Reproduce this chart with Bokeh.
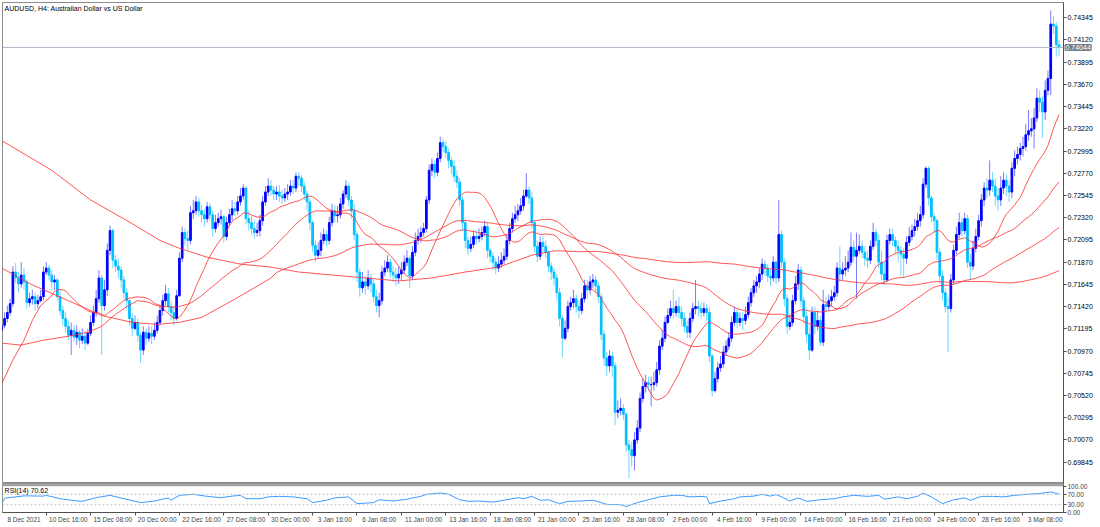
import numpy as np
from bokeh.plotting import figure
from bokeh.layouts import column
from bokeh.models import (ColumnDataSource, FixedTicker, NumeralTickFormatter,
                          Span, Label, Range1d, BoxAnnotation)
from bokeh.embed import file_html
from bokeh.resources import INLINE

FONT = "Liberation Sans"

chart_title = "AUDUSD, H4:  Australian Dollar vs US Dollar"
rsi_title = "RSI(14) 70.62"
last_price = 0.74044

first_open = 0.7118
close = [
    0.7123, 0.7130, 0.7136, 0.7145, 0.7177, 0.7171, 0.7165, 0.7174, 0.7167, 0.7146, 0.7150, 0.7152, 0.7145, 0.7148, 0.7152, 0.7177,
    0.7181, 0.7174, 0.7167, 0.7169, 0.7152, 0.7138, 0.7130, 0.7122, 0.7113, 0.7118, 0.7111, 0.7116, 0.7108, 0.7112, 0.7105, 0.7115,
    0.7126, 0.7136, 0.7150, 0.7171, 0.7143, 0.7159, 0.7199, 0.7219, 0.7189, 0.7183, 0.7179, 0.7169, 0.7156, 0.7148, 0.7130, 0.7120,
    0.7126, 0.7113, 0.7098, 0.7116, 0.7110, 0.7115, 0.7112, 0.7118, 0.7126, 0.7138, 0.7148, 0.7155, 0.7142, 0.7136, 0.7130, 0.7153,
    0.7191, 0.7217, 0.7211, 0.7209, 0.7237, 0.7239, 0.7248, 0.7239, 0.7235, 0.7231, 0.7243, 0.7235, 0.7221, 0.7227, 0.7231, 0.7233,
    0.7213, 0.7227, 0.7235, 0.7241, 0.7239, 0.7248, 0.7254, 0.7262, 0.7231, 0.7227, 0.7221, 0.7217, 0.7219, 0.7229, 0.7248, 0.7258,
    0.7264, 0.7260, 0.7256, 0.7258, 0.7254, 0.7252, 0.7256, 0.7258, 0.7264, 0.7262, 0.7274, 0.7272, 0.7264, 0.7256, 0.7248, 0.7227,
    0.7204, 0.7194, 0.7199, 0.7209, 0.7215, 0.7209, 0.7227, 0.7239, 0.7234, 0.7235, 0.7246, 0.7256, 0.7264, 0.7250, 0.7239, 0.7215,
    0.7177, 0.7161, 0.7167, 0.7163, 0.7171, 0.7165, 0.7152, 0.7143, 0.7148, 0.7177, 0.7181, 0.7187, 0.7177, 0.7174, 0.7171, 0.7175,
    0.7179, 0.7187, 0.7191, 0.7173, 0.7197, 0.7209, 0.7213, 0.7217, 0.7221, 0.7250, 0.7280, 0.7286, 0.7278, 0.7292, 0.7308, 0.7304,
    0.7298, 0.7290, 0.7284, 0.7274, 0.7268, 0.7250, 0.7227, 0.7209, 0.7201, 0.7205, 0.7213, 0.7211, 0.7213, 0.7217, 0.7223, 0.7199,
    0.7193, 0.7187, 0.7181, 0.7185, 0.7189, 0.7193, 0.7209, 0.7221, 0.7231, 0.7235, 0.7239, 0.7244, 0.7254, 0.7260, 0.7252, 0.7227,
    0.7203, 0.7193, 0.7207, 0.7203, 0.7197, 0.7183, 0.7177, 0.7171, 0.7156, 0.7130, 0.7110, 0.7120, 0.7142, 0.7146, 0.7150, 0.7142,
    0.7138, 0.7150, 0.7163, 0.7159, 0.7167, 0.7169, 0.7163, 0.7152, 0.7114, 0.7090, 0.7082, 0.7092, 0.7082, 0.7035, 0.7037, 0.7039,
    0.7033, 0.7002, 0.6997, 0.6991, 0.7007, 0.7019, 0.7049, 0.7061, 0.7065, 0.7063, 0.7063, 0.7065, 0.7078, 0.7102, 0.7110, 0.7126,
    0.7133, 0.7140, 0.7136, 0.7142, 0.7136, 0.7130, 0.7122, 0.7116, 0.7130, 0.7140, 0.7142, 0.7140, 0.7136, 0.7140, 0.7136, 0.7092,
    0.7057, 0.7069, 0.7080, 0.7084, 0.7096, 0.7102, 0.7110, 0.7126, 0.7136, 0.7126, 0.7130, 0.7128, 0.7134, 0.7146, 0.7156, 0.7163,
    0.7167, 0.7175, 0.7185, 0.7181, 0.7173, 0.7171, 0.7187, 0.7171, 0.7215, 0.7187, 0.7150, 0.7122, 0.7126, 0.7148, 0.7165, 0.7179,
    0.7148, 0.7132, 0.7114, 0.7098, 0.7136, 0.7122, 0.7128, 0.7106, 0.7144, 0.7142, 0.7148, 0.7152, 0.7156, 0.7181, 0.7175, 0.7179,
    0.7181, 0.7187, 0.7202, 0.7193, 0.7199, 0.7203, 0.7197, 0.7191, 0.7189, 0.7203, 0.7217, 0.7209, 0.7187, 0.7175, 0.7169, 0.7209,
    0.7215, 0.7209, 0.7203, 0.7199, 0.7195, 0.7191, 0.7207, 0.7213, 0.7219, 0.7223, 0.7229, 0.7235, 0.7266, 0.7282, 0.7252, 0.7233,
    0.7229, 0.7197, 0.7173, 0.7156, 0.7142, 0.7140, 0.7169, 0.7199, 0.7215, 0.7227, 0.7219, 0.7231, 0.7187, 0.7183, 0.7201, 0.7213,
    0.7229, 0.7250, 0.7262, 0.7260, 0.7270, 0.7264, 0.7254, 0.7250, 0.7262, 0.7270, 0.7264, 0.7258, 0.7282, 0.7292, 0.7296, 0.7302,
    0.7304, 0.7316, 0.7320, 0.7322, 0.7333, 0.7353, 0.7349, 0.7339, 0.7361, 0.7373, 0.7428, 0.7426, 0.7407, 0.74044,
]
high = [
    0.7128, 0.7136, 0.7143, 0.7150, 0.7183, 0.7186, 0.7177, 0.7187, 0.7181, 0.7169, 0.7156, 0.7159, 0.7156, 0.7154, 0.7159, 0.7183,
    0.7187, 0.7184, 0.7179, 0.7174, 0.7171, 0.7159, 0.7143, 0.7136, 0.7128, 0.7126, 0.7123, 0.7123, 0.7118, 0.7120, 0.7118, 0.7120,
    0.7133, 0.7143, 0.7159, 0.7179, 0.7174, 0.7169, 0.7206, 0.7224, 0.7221, 0.7194, 0.7191, 0.7183, 0.7173, 0.7161, 0.7150, 0.7136,
    0.7133, 0.7130, 0.7116, 0.7122, 0.7120, 0.7122, 0.7122, 0.7126, 0.7133, 0.7143, 0.7154, 0.7164, 0.7161, 0.7148, 0.7143, 0.7159,
    0.7197, 0.7223, 0.7221, 0.7219, 0.7244, 0.7250, 0.7254, 0.7252, 0.7245, 0.7241, 0.7248, 0.7247, 0.7239, 0.7235, 0.7237, 0.7240,
    0.7235, 0.7233, 0.7241, 0.7250, 0.7248, 0.7254, 0.7262, 0.7266, 0.7264, 0.7239, 0.7234, 0.7229, 0.7227, 0.7235, 0.7254, 0.7264,
    0.7272, 0.7270, 0.7264, 0.7264, 0.7265, 0.7260, 0.7262, 0.7266, 0.7270, 0.7270, 0.7278, 0.7278, 0.7275, 0.7268, 0.7260, 0.7252,
    0.7229, 0.7209, 0.7207, 0.7217, 0.7221, 0.7219, 0.7233, 0.7246, 0.7245, 0.7244, 0.7252, 0.7260, 0.7270, 0.7268, 0.7254, 0.7246,
    0.7218, 0.7181, 0.7177, 0.7173, 0.7179, 0.7175, 0.7169, 0.7159, 0.7156, 0.7183, 0.7189, 0.7194, 0.7191, 0.7183, 0.7181, 0.7183,
    0.7187, 0.7194, 0.7199, 0.7194, 0.7203, 0.7217, 0.7221, 0.7223, 0.7227, 0.7254, 0.7286, 0.7292, 0.7290, 0.7298, 0.7314, 0.7312,
    0.7310, 0.7302, 0.7294, 0.7290, 0.7280, 0.7272, 0.7254, 0.7231, 0.7213, 0.7213, 0.7219, 0.7219, 0.7221, 0.7223, 0.7229, 0.7227,
    0.7201, 0.7197, 0.7191, 0.7193, 0.7197, 0.7201, 0.7215, 0.7227, 0.7237, 0.7244, 0.7246, 0.7252, 0.7260, 0.7277, 0.7264, 0.7258,
    0.7229, 0.7209, 0.7213, 0.7213, 0.7209, 0.7199, 0.7187, 0.7181, 0.7175, 0.7161, 0.7133, 0.7128, 0.7148, 0.7152, 0.7159, 0.7154,
    0.7148, 0.7156, 0.7169, 0.7169, 0.7173, 0.7175, 0.7173, 0.7167, 0.7156, 0.7118, 0.7096, 0.7098, 0.7096, 0.7086, 0.7047, 0.7049,
    0.7043, 0.7035, 0.7007, 0.7005, 0.7015, 0.7027, 0.7055, 0.7069, 0.7073, 0.7071, 0.7071, 0.7076, 0.7086, 0.7108, 0.7118, 0.7132,
    0.7140, 0.7148, 0.7159, 0.7148, 0.7152, 0.7142, 0.7136, 0.7128, 0.7136, 0.7146, 0.7169, 0.7148, 0.7146, 0.7146, 0.7144, 0.7142,
    0.7094, 0.7076, 0.7086, 0.7092, 0.7102, 0.7108, 0.7116, 0.7132, 0.7142, 0.7140, 0.7136, 0.7136, 0.7142, 0.7152, 0.7161, 0.7169,
    0.7173, 0.7181, 0.7191, 0.7189, 0.7185, 0.7179, 0.7193, 0.7189, 0.7250, 0.7219, 0.7191, 0.7154, 0.7134, 0.7154, 0.7173, 0.7185,
    0.7183, 0.7152, 0.7138, 0.7122, 0.7142, 0.7142, 0.7138, 0.7132, 0.7159, 0.7152, 0.7154, 0.7159, 0.7163, 0.7187, 0.7203, 0.7187,
    0.7193, 0.7199, 0.7217, 0.7209, 0.7217, 0.7215, 0.7209, 0.7203, 0.7199, 0.7209, 0.7227, 0.7221, 0.7215, 0.7199, 0.7187, 0.7215,
    0.7221, 0.7221, 0.7213, 0.7209, 0.7203, 0.7201, 0.7213, 0.7223, 0.7225, 0.7231, 0.7237, 0.7244, 0.7272, 0.7284, 0.7284, 0.7254,
    0.7237, 0.7231, 0.7201, 0.7179, 0.7161, 0.7152, 0.7175, 0.7205, 0.7223, 0.7237, 0.7233, 0.7237, 0.7235, 0.7195, 0.7209, 0.7221,
    0.7235, 0.7256, 0.7268, 0.7272, 0.7290, 0.7278, 0.7272, 0.7262, 0.7274, 0.7278, 0.7276, 0.7270, 0.7288, 0.7300, 0.7304, 0.7308,
    0.7314, 0.7327, 0.7341, 0.7333, 0.7343, 0.7363, 0.7361, 0.7355, 0.7371, 0.7381, 0.7442, 0.7436, 0.7430, 0.7412,
]
low = [
    0.7113, 0.7120, 0.7126, 0.7133, 0.7142, 0.7166, 0.7156, 0.7161, 0.7159, 0.7140, 0.7142, 0.7144, 0.7138, 0.7140, 0.7146, 0.7148,
    0.7174, 0.7169, 0.7161, 0.7159, 0.7148, 0.7133, 0.7123, 0.7116, 0.7108, 0.7093, 0.7106, 0.7103, 0.7100, 0.7104, 0.7098, 0.7103,
    0.7112, 0.7122, 0.7132, 0.7146, 0.7093, 0.7138, 0.7153, 0.7194, 0.7181, 0.7177, 0.7171, 0.7161, 0.7150, 0.7140, 0.7123, 0.7112,
    0.7118, 0.7106, 0.7085, 0.7093, 0.7103, 0.7106, 0.7104, 0.7108, 0.7115, 0.7123, 0.7133, 0.7143, 0.7136, 0.7128, 0.7123, 0.7128,
    0.7152, 0.7187, 0.7204, 0.7199, 0.7205, 0.7231, 0.7235, 0.7233, 0.7227, 0.7223, 0.7227, 0.7229, 0.7213, 0.7217, 0.7223, 0.7225,
    0.7207, 0.7209, 0.7223, 0.7229, 0.7233, 0.7235, 0.7244, 0.7250, 0.7225, 0.7219, 0.7215, 0.7211, 0.7213, 0.7213, 0.7224, 0.7244,
    0.7254, 0.7254, 0.7250, 0.7250, 0.7248, 0.7246, 0.7248, 0.7250, 0.7254, 0.7256, 0.7258, 0.7264, 0.7258, 0.7250, 0.7239, 0.7219,
    0.7197, 0.7187, 0.7191, 0.7193, 0.7205, 0.7203, 0.7205, 0.7223, 0.7227, 0.7227, 0.7231, 0.7241, 0.7252, 0.7244, 0.7231, 0.7209,
    0.7167, 0.7152, 0.7156, 0.7154, 0.7159, 0.7156, 0.7146, 0.7136, 0.7131, 0.7144, 0.7173, 0.7177, 0.7171, 0.7167, 0.7163, 0.7165,
    0.7169, 0.7175, 0.7183, 0.7161, 0.7169, 0.7193, 0.7205, 0.7207, 0.7213, 0.7217, 0.7246, 0.7274, 0.7272, 0.7274, 0.7288, 0.7298,
    0.7292, 0.7282, 0.7276, 0.7268, 0.7262, 0.7244, 0.7219, 0.7201, 0.7194, 0.7197, 0.7201, 0.7205, 0.7207, 0.7209, 0.7213, 0.7191,
    0.7187, 0.7179, 0.7175, 0.7177, 0.7181, 0.7185, 0.7189, 0.7205, 0.7217, 0.7227, 0.7229, 0.7235, 0.7239, 0.7252, 0.7246, 0.7221,
    0.7197, 0.7187, 0.7189, 0.7197, 0.7191, 0.7177, 0.7169, 0.7163, 0.7148, 0.7122, 0.7091, 0.7108, 0.7116, 0.7138, 0.7140, 0.7136,
    0.7130, 0.7134, 0.7146, 0.7150, 0.7154, 0.7161, 0.7156, 0.7146, 0.7108, 0.7082, 0.7072, 0.7076, 0.7071, 0.7022, 0.7029, 0.7032,
    0.7027, 0.6995, 0.6968, 0.6980, 0.6976, 0.7003, 0.7015, 0.7045, 0.7055, 0.7057, 0.7041, 0.7057, 0.7061, 0.7073, 0.7098, 0.7106,
    0.7124, 0.7130, 0.7130, 0.7132, 0.7130, 0.7122, 0.7116, 0.7110, 0.7110, 0.7126, 0.7134, 0.7132, 0.7130, 0.7132, 0.7128, 0.7086,
    0.7051, 0.7055, 0.7065, 0.7076, 0.7080, 0.7092, 0.7098, 0.7106, 0.7122, 0.7120, 0.7122, 0.7118, 0.7124, 0.7130, 0.7142, 0.7152,
    0.7156, 0.7161, 0.7169, 0.7173, 0.7167, 0.7163, 0.7167, 0.7165, 0.7167, 0.7181, 0.7142, 0.7114, 0.7118, 0.7122, 0.7144, 0.7159,
    0.7142, 0.7124, 0.7106, 0.7088, 0.7096, 0.7114, 0.7118, 0.7102, 0.7102, 0.7136, 0.7138, 0.7142, 0.7148, 0.7152, 0.7167, 0.7169,
    0.7173, 0.7177, 0.7183, 0.7187, 0.7150, 0.7195, 0.7191, 0.7183, 0.7181, 0.7185, 0.7199, 0.7203, 0.7181, 0.7169, 0.7164, 0.7167,
    0.7205, 0.7203, 0.7195, 0.7187, 0.7173, 0.7171, 0.7185, 0.7203, 0.7209, 0.7213, 0.7219, 0.7223, 0.7231, 0.7262, 0.7244, 0.7227,
    0.7217, 0.7189, 0.7165, 0.7148, 0.7136, 0.7096, 0.7136, 0.7165, 0.7195, 0.7211, 0.7213, 0.7215, 0.7181, 0.7169, 0.7179, 0.7197,
    0.7209, 0.7223, 0.7244, 0.7252, 0.7254, 0.7258, 0.7244, 0.7239, 0.7244, 0.7256, 0.7254, 0.7248, 0.7252, 0.7274, 0.7286, 0.7290,
    0.7294, 0.7300, 0.7310, 0.7314, 0.7302, 0.7329, 0.7339, 0.7313, 0.7331, 0.7356, 0.7356, 0.7418, 0.7395, 0.7396,
]

time_tick_bars = [0, 16, 32, 48, 64, 80, 96, 112, 128, 144, 160, 176,
                  192, 208, 224, 240, 256, 272, 288, 304, 320, 336, 352, 368]
time_tick_labels = ["8 Dec 2021", "10 Dec 16:00", "15 Dec 08:00", "20 Dec 00:00",
                    "22 Dec 16:00", "27 Dec 08:00", "30 Dec 00:00", "3 Jan 16:00",
                    "6 Jan 08:00", "11 Jan 00:00", "13 Jan 16:00", "18 Jan 08:00",
                    "21 Jan 00:00", "25 Jan 16:00", "28 Jan 08:00", "2 Feb 00:00",
                    "4 Feb 16:00", "9 Feb 00:00", "14 Feb 00:00", "16 Feb 16:00",
                    "21 Feb 00:00", "24 Feb 00:00", "28 Feb 16:00", "3 Mar 08:00"]
price_ticks = [0.69845, 0.70070, 0.70295, 0.70520, 0.70745, 0.70970, 0.71195,
               0.71420, 0.71645, 0.71870, 0.72095, 0.72320, 0.72545, 0.72770,
               0.72995, 0.73220, 0.73445, 0.73670, 0.73895, 0.74120, 0.74345]
rsi_ticks = [0, 30, 70, 100]
rsi_tick_labels = ["0.00", "30.00", "70.00", "100.00"]
rsi_levels = [30, 70]

ma_periods = [20, 50, 100, 200]
ma_head_bars = {
    20: [0, 4, 8, 11, 14, 18],
    50: [0, 7, 15, 24, 31, 36, 40, 45],
    100: [0, 11, 24, 36, 47, 56, 64, 72, 83, 91, 97],
    200: [0, 9, 18, 32, 47, 57, 64, 74, 86, 97, 107, 119, 131, 143, 155, 167, 179, 191],
}
ma_head_values = {
    20: [0.7064, 0.7088, 0.7108, 0.7128, 0.7143, 0.7153],
    50: [0.7105, 0.7103, 0.7108, 0.7112, 0.7116, 0.7122, 0.7132, 0.7142],
    100: [0.7181, 0.7164, 0.7148, 0.7133, 0.7126, 0.7124, 0.7126, 0.7131, 0.7148, 0.7161, 0.7171],
    200: [0.7310, 0.7295, 0.7280, 0.7250, 0.7226, 0.7209, 0.7201, 0.7192, 0.7185, 0.7182,
          0.7177, 0.7174, 0.7171, 0.7168, 0.7171, 0.7177, 0.7182, 0.7194],
}

rsi_bars = [0, 1, 8, 15, 16, 21, 25, 29, 34, 39, 44, 50, 55, 60, 61, 64, 69, 74, 79, 83,
            86, 88, 93, 96, 100, 105, 110, 112, 117, 120, 125, 128, 131, 134, 136, 141, 146,
            148, 151, 153, 158, 161, 165, 168, 172, 177, 182, 186, 188, 191, 194, 197, 201,
            204, 208, 213, 216, 218, 223, 225, 229, 233, 237, 242, 245, 248, 252, 254, 255,
            259, 263, 264, 266, 271, 274, 277, 279, 281, 284, 287, 290, 295, 300, 303, 307,
            312, 316, 318, 323, 326, 330, 332, 335, 339, 343, 347, 349, 353, 357, 361, 365,
            370, 374, 378, 381]
rsi_values = [34, 55, 64, 63, 66, 53, 47, 43, 57, 66, 53, 38, 44, 56, 47, 66, 70, 62, 57, 63,
              66, 53, 53, 60, 62, 60, 53, 38, 47, 56, 60, 34, 36, 38, 49, 44, 51,
              56, 62, 70, 75, 70, 49, 43, 44, 40, 49, 57, 53, 62, 47, 49, 34,
              43, 44, 47, 38, 31, 30, 23, 38, 49, 60, 66, 66, 60, 62, 60, 34,
              44, 51, 53, 60, 63, 70, 63, 69, 60, 44, 56, 43, 49, 53, 60, 66,
              62, 66, 51, 60, 53, 62, 75, 60, 34, 49, 56, 47, 62, 62, 60, 66,
              70, 73, 79, 70.62]

# ---------------------------------------------------------------- data prep
n = len(close)
bars = np.arange(n)
c = np.array(close)
o = np.concatenate([[first_open], c[:-1]])
h = np.maximum(np.array(high), np.maximum(o, c))
l = np.minimum(np.array(low), np.minimum(o, c))
up = c >= o
body_col = np.where(up, "#0000ff", "#00bfff")
wick_col = np.where(up, "#7b7bff", "#6fd6ff")
src = ColumnDataSource(dict(x=bars, o=o, c=c, h=h, l=l,
                            top=np.maximum(o, c), bottom=np.minimum(o, c),
                            body=body_col, wick=wick_col))

X_END = 382.6
x_rng = Range1d(0.25, X_END)
FRAME_W = 1061

p = figure(frame_width=FRAME_W, frame_height=481, x_range=x_rng,
           y_range=Range1d(0.69629, 0.74499), output_backend="svg",
           toolbar_location=None, x_axis_location=None, y_axis_location="right",
           min_border_left=2, min_border_right=0, min_border_top=2, min_border_bottom=0,
           background_fill_color="white", border_fill_color="white")
p.grid.visible = False
p.outline_line_color = "#8c8c8c"

ax = p.yaxis[0]
ax.ticker = FixedTicker(ticks=price_ticks)
ax.formatter = NumeralTickFormatter(format="0.00000")
ax.major_label_text_font = FONT
ax.major_label_text_font_size = "7px"
ax.major_label_text_color = "#000000"
ax.major_tick_out = 3
ax.major_tick_in = 0
ax.minor_tick_out = 0
ax.minor_tick_in = 0
ax.major_label_standoff = 1
ax.axis_line_color = "#505050"
ax.major_tick_line_color = "#505050"

p.add_layout(Span(location=last_price, dimension="width", line_color="#aeb6c4", line_width=1))

p.segment(x0="x", y0="h", x1="x", y1="l", line_color="wick", line_width=1, source=src)
p.vbar(x="x", width=0.6, top="top", bottom="bottom", fill_color="body",
       line_color="body", line_width=1, source=src)

cs = np.concatenate([[0.0], np.cumsum(c)])
for per in ma_periods:
    idx = np.arange(per - 1, n)
    sma = (cs[idx + 1] - cs[idx + 1 - per]) / per
    xs = list(ma_head_bars[per]) + list(idx)
    ys = list(ma_head_values[per]) + list(sma)
    p.line(xs, ys, line_color="#ff2a2a", line_alpha=0.8, line_width=1)

p.add_layout(Label(x=1.0, y=0.74470, text=chart_title, text_font=FONT,
                   text_font_size="7px", text_color="#000000", text_baseline="top"))

# price tag for the last quote, on the price scale (placed in the right side panel)
TAG_COLOR = "#6f7f90"
price_tag = Label(x=X_END, y=last_price, x_offset=2, text=f"{last_price:.5f}",
                  text_font=FONT, text_font_size="7px", text_color="white",
                  text_baseline="middle", text_align="left",
                  background_fill_color=TAG_COLOR, background_fill_alpha=1.0,
                  border_line_color=TAG_COLOR, border_line_width=2)
p.add_layout(price_tag, "right")

# ---------------------------------------------------------------- RSI panel
r = figure(frame_width=FRAME_W, frame_height=29, x_range=x_rng, y_range=Range1d(0, 111.5),
           output_backend="svg", toolbar_location=None, y_axis_location="right",
           min_border_left=2, min_border_right=0, min_border_top=0, min_border_bottom=0,
           background_fill_color="white", border_fill_color="white")
r.grid.visible = False
r.outline_line_color = "#8c8c8c"
r.add_layout(BoxAnnotation(bottom=101, fill_color="#a3a3a3", fill_alpha=1.0,
                           line_color=None))
for lv in rsi_levels:
    r.add_layout(Span(location=lv, dimension="width", line_color="#c4c4c4",
                      line_dash="2 2", line_width=1))
r.line(rsi_bars, rsi_values, line_color="#3a9bff", line_width=1)
r.add_layout(Label(x=1.0, y=99, text=rsi_title, text_font=FONT, text_font_size="7px",
                   text_color="#000000", text_baseline="top"))

ry = r.yaxis[0]
ry.ticker = FixedTicker(ticks=rsi_ticks)
ry.major_label_overrides = {t: s for t, s in zip(rsi_ticks, rsi_tick_labels)}
ry.major_label_text_font = FONT
ry.major_label_text_font_size = "6.5px"
ry.major_tick_out = 3
ry.major_tick_in = 0
ry.minor_tick_out = 0
ry.minor_tick_in = 0
ry.major_label_standoff = 1
ry.axis_line_color = "#505050"
ry.major_tick_line_color = "#505050"

# time axis: tick marks at the bar, label text starting just right of it
LABEL_SHIFT = 8
label_pos = [b + LABEL_SHIFT for b in time_tick_bars]
rx = r.xaxis[0]
rx.ticker = FixedTicker(ticks=label_pos, minor_ticks=time_tick_bars)
rx.major_label_overrides = {t: s for t, s in zip(label_pos, time_tick_labels)}
rx.major_label_text_font = FONT
rx.major_label_text_font_size = "6.5px"
rx.major_tick_out = 0
rx.major_tick_in = 0
rx.minor_tick_out = 3
rx.minor_tick_in = 0
rx.major_label_standoff = 0
rx.axis_line_color = "#505050"
rx.minor_tick_line_color = "#505050"

layout = column(p, r, spacing=0)
open("out.html", "w").write(file_html(layout, INLINE))
